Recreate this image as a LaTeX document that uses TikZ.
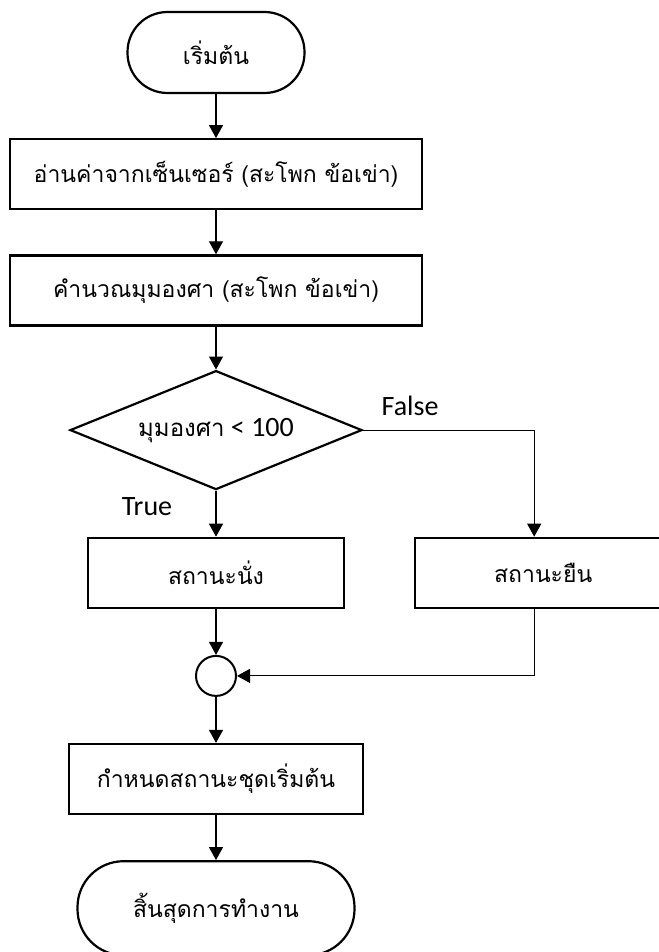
\documentclass[tikz,border=0pt]{standalone}
\usepackage{fontspec}
\setmainfont{Carlito}
\newfontfamily\thaifont[Script=Thai]{Loma}
\usepackage{tikz}
\usetikzlibrary{arrows.meta, positioning, shapes.geometric}

\begin{document}
\begin{tikzpicture}[
    node distance=44pt,
    term/.style={draw, line width=2.2pt, rounded corners=40pt, inner sep=0pt,
                 minimum height=81pt, font=\thaifont\fontsize{23}{28}\selectfont},
    proc/.style={draw, line width=2.2pt, inner sep=0pt, minimum height=70pt,
                 font=\thaifont\fontsize{23}{28}\selectfont},
    decide/.style={draw, diamond, aspect=2.45, line width=2.2pt, inner sep=0pt,
                   minimum width=292pt, minimum height=119pt,
                   font=\fontsize{28}{32}\selectfont},
    joint/.style={draw, circle, line width=2pt, minimum size=40pt, inner sep=0pt},
    lbl/.style={font=\fontsize{28}{32}\selectfont, inner sep=0pt},
    arr/.style={-{Triangle[length=13pt, width=14pt]}, line width=1.1pt}]
  \useasboundingbox (0,0) rectangle (658pt,-952pt);
  \node[term, minimum width=177pt] (start) at (216pt,-52.5pt) {เริ่มต้น};
  \node[proc, minimum width=412pt, below=of start] (read) {อ่านค่าจากเซ็นเซอร์ (สะโพก ข้อเข่า)};
  \node[proc, minimum width=412pt, below=of read] (calc) {คำนวณมุมองศา (สะโพก ข้อเข่า)};
  \node[decide, below=43pt of calc] (dec) {{\thaifont\fontsize{24}{28}\selectfont มุมองศา} < 100};
  \node[proc, minimum width=256pt, below=46pt of dec] (sit) {สถานะนั่ง};
  \node[proc, minimum width=256pt, right=69pt of sit] (stand) {สถานะยืน};
  \node[joint, below=46pt of sit] (join) {};
  \node[proc, minimum width=294pt, below=46pt of join] (init) {กำหนดสถานะชุดเริ่มต้น};
  \node[term, minimum width=277pt, minimum height=94pt, rounded corners=46pt,
        below=45pt of init] (stop) {สิ้นสุดการทำงาน};
  \node[lbl] (false) at ([xshift=47pt, yshift=24pt]dec.east) {False};
  \node[lbl] (true) at ([xshift=-69pt, yshift=-16pt]dec.south) {True};
  \draw[arr] (start) -- (read);
  \draw[arr] (read) -- (calc);
  \draw[arr] (calc) -- (dec);
  \draw[arr] (dec) -- (sit);
  \draw[arr] (dec.east) -| ([xshift=-9pt]stand.north);
  \draw[arr] (sit) -- (join);
  \draw[arr] ([xshift=-9pt]stand.south) |- (join.east);
  \draw[arr] (join) -- (init);
  \draw[arr] (init) -- (stop);
\end{tikzpicture}
\end{document}
